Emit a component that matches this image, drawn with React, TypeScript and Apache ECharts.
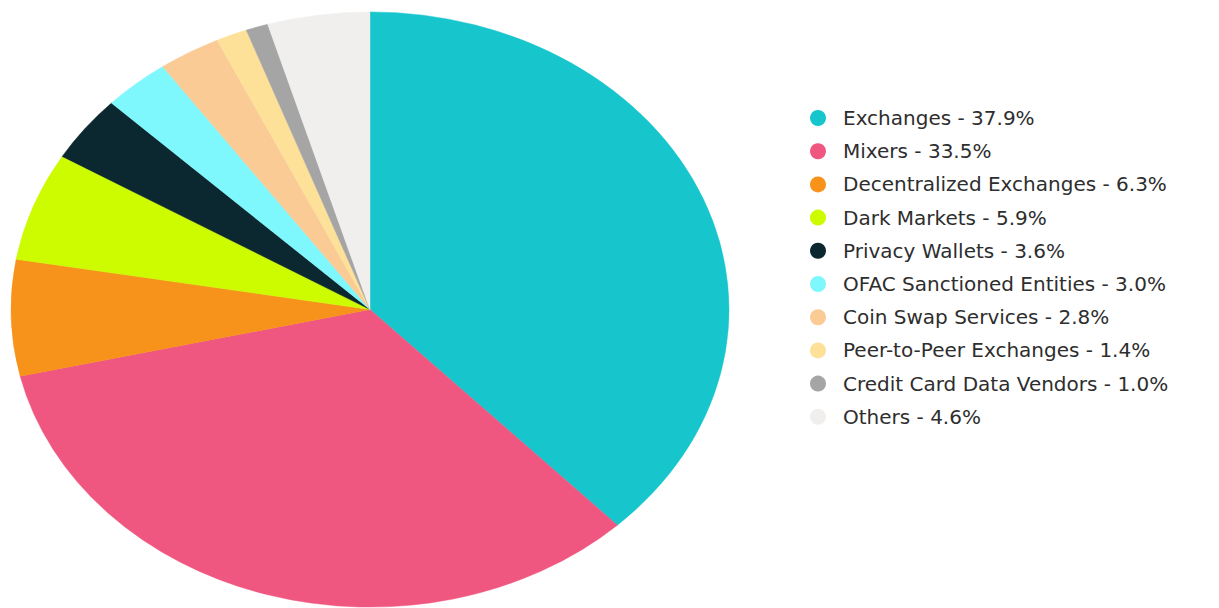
import React, { useEffect, useRef } from "react";
import * as echarts from "echarts";

const categories = [
  "Exchanges",
  "Mixers",
  "Decentralized Exchanges",
  "Dark Markets",
  "Privacy Wallets",
  "OFAC Sanctioned Entities",
  "Coin Swap Services",
  "Peer-to-Peer Exchanges",
  "Credit Card Data Vendors",
  "Others",
];
const shares = [37.9, 33.5, 6.3, 5.9, 3.6, 3.0, 2.8, 1.4, 1.0, 4.6];
const colors = [
  "#17c5cd",
  "#ef5680",
  "#f7931a",
  "#cdfb00",
  "#0b2730",
  "#7ff8fd",
  "#fbcb95",
  "#fde199",
  "#a5a5a5",
  "#f0efed",
];

const CX = 370;
const CY = 309.5;
const RX = 359;
const RY = 297.5;

export default function App() {
  const ref = useRef<HTMLDivElement>(null);
  useEffect(() => {
    if (!ref.current) return;
    const chart = echarts.init(ref.current, null, { renderer: "svg" });
    const total = shares.reduce((a, b) => a + b, 0);
    const names = categories.map((c, i) => `${c} - ${shares[i].toFixed(1)}%`);
    const series = shares.map((v, i) => {
      const before = shares.slice(0, i).reduce((a, b) => a + b, 0);
      return {
        type: "custom",
        name: names[i],
        coordinateSystem: "none",
        itemStyle: { color: colors[i] },
        data: [[v]],
        renderItem: (params: any, api: any) => {
          const value = api.value(0);
          const start = -Math.PI / 2 + (2 * Math.PI * before) / total;
          const end = start + (2 * Math.PI * value) / total;
          return {
            type: "group",
            x: CX,
            y: CY,
            scaleY: RY / RX,
            children: [
              {
                type: "sector",
                shape: { cx: 0, cy: 0, r0: 0, r: RX, startAngle: start, endAngle: end, clockwise: true },
                style: { fill: colors[i], stroke: colors[i], lineWidth: 0.5 },
              },
            ],
          };
        },
      };
    });
    chart.setOption({
      animation: false,
      backgroundColor: "#ffffff",
      legend: {
        orient: "vertical",
        left: 805,
        top: 103,
        icon: "circle",
        itemWidth: 16,
        itemHeight: 16,
        itemGap: 13.2,
        data: names,
        textStyle: {
          fontFamily: "DejaVu Sans",
          fontSize: 20,
          lineHeight: 20,
          color: "#2e2e2e",
          padding: [0, 0, 0, 12],
        },
      },
      series,
    });
    return () => chart.dispose();
  }, []);
  return (
    <div
      ref={ref}
      style={{ position: "fixed", left: 0, top: 0, width: 1219, height: 608 }}
    />
  );
}
